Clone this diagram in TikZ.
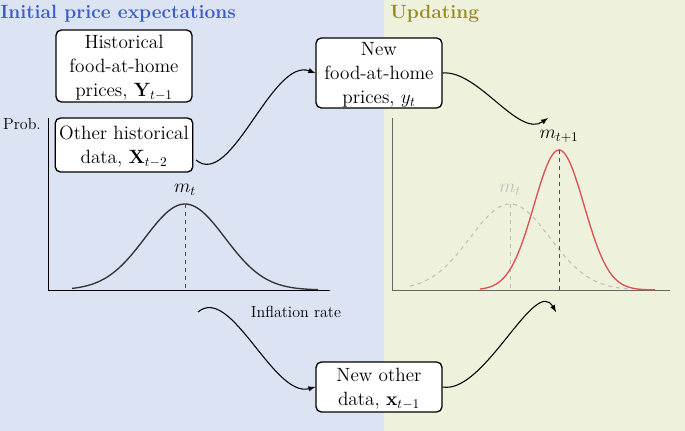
\documentclass[tikz,border=0pt]{standalone}
\usepackage{amsmath}
\usepackage{tikz}
\usetikzlibrary{positioning}
\definecolor{leftbg}{RGB}{220,227,243}
\definecolor{rightbg}{RGB}{238,242,221}
\definecolor{titleblue}{RGB}{60,90,200}
\definecolor{titleolive}{RGB}{150,140,30}
\definecolor{curvered}{RGB}{225,80,80}
\tikzset{
  infobox/.style={draw,line width=1pt,rounded corners=4pt,fill=white,align=center,inner sep=3pt,font=\Large,text depth=0pt},
  flowarrow/.style={->,>=latex,line width=0.8pt,looseness=0.8},
  axisline/.style={line width=0.4pt},
}
\begin{document}
\begin{tikzpicture}[x=0.75pt,y=0.75pt,yscale=-1,xscale=1]
\useasboundingbox (0,0) rectangle (685,431);
%backgrounds
\fill [leftbg] (0,0) rectangle (384,431);
\fill [rightbg] (384,0) rectangle (685,431);
% titles
\node (ttlL) [anchor=west,font=\Large\bfseries,color=titleblue,inner sep=0pt] at (0,14) {Initial price expectations};
\node (ttlR) [anchor=west,font=\Large\bfseries,color=titleolive,inner sep=0pt] at (390,14) {Updating};
% boxes
\node (hist) [infobox,minimum width=136*0.75pt,minimum height=72*0.75pt] at (124,66) {Historical\\food-at-home\\prices, $\mathbf{Y}_{t-1}$};
\node (other) [infobox,minimum width=136*0.75pt,minimum height=54*0.75pt] at (124,145) {Other historical\\data, $\mathbf{X}_{t-2}$};
\node (newfood) [infobox,minimum width=126*0.75pt,minimum height=70*0.75pt] at (379,73) {New\\food-at-home\\prices, $y_t$};
\node (newother) [infobox,minimum width=126*0.75pt,minimum height=50*0.75pt] at (379,387) {New other\\data, $\mathbf{x}_{t-1}$};
% left axes
\draw [axisline] (48,118) -- (48,290) -- (330,290);
\node (prob) [font=\large] at (22,124) {Prob.};
\node (infl) [font=\large] at (296,312) {Inflation rate};
\draw [line width=1pt,color=black!80,domain=72:318,samples=80] plot (\x,{290-86*exp(-((\x-185)/40)^2/2)});
\draw [dashed,color=black!70] (185,204) -- (185,290);
\node (mt) [font=\Large] at (185,190) {$m_t$};
% right axes
\draw [axisline,color=black!60] (392,118) -- (392,290) -- (670,290);
\draw [dashed,line width=0.8pt,color=black!25,domain=410:630,samples=80] plot (\x,{290-86*exp(-((\x-510)/40)^2/2)});
\draw [dashed,color=black!25] (510,204) -- (510,290);
\node (mtold) [font=\Large,color=black!25] at (510,190) {$m_t$};
\draw [line width=1pt,color=curvered,domain=480:655,samples=80] plot (\x,{290-140*exp(-((\x-559)/25)^2/2)});
\draw [dashed,color=black!70] (559,150) -- (559,290);
\node (mnew) [font=\Large] at (559,136) {$m_{t+1}$};
% arrows
\coordinate (updfrom) at (196,160);
\coordinate (upd) at (548,118);
\coordinate (lowstart) at (198,312);
\coordinate (lowend) at (556,312);
\draw [flowarrow] (updfrom) to[out=40,in=200] (newfood.west);
\draw [flowarrow] (newfood.east) to[out=-5,in=145] (upd);
\draw [flowarrow] (lowstart) to[out=-40,in=165] (newother.west);
\draw [flowarrow] (newother.east) to[out=10,in=-120] (lowend);
\end{tikzpicture}
\end{document}
